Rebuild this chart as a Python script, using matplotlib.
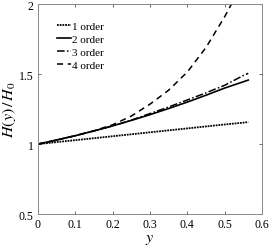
import matplotlib
matplotlib.use("Agg")
import matplotlib.pyplot as plt

plt.rcParams['font.family'] = ['Liberation Serif', 'DejaVu Serif']
plt.rcParams['mathtext.fontset'] = 'stix'

x = [0, 0.05, 0.1, 0.15, 0.2, 0.25, 0.3, 0.35, 0.4, 0.45, 0.5, 0.55, 0.563]
order1 = [1.0, 1.014, 1.028, 1.042, 1.056, 1.07, 1.084, 1.098, 1.112, 1.126, 1.14, 1.153, 1.157]
order2 = [1.0, 1.029, 1.06, 1.094, 1.13, 1.169, 1.21, 1.254, 1.30, 1.349, 1.40, 1.445, 1.457]
order3 = [1.0, 1.029, 1.06, 1.094, 1.13, 1.171, 1.218, 1.265, 1.315, 1.366, 1.42, 1.49, 1.505]
x4 = [0, 0.05, 0.1, 0.15, 0.2, 0.25, 0.3, 0.35, 0.4, 0.45, 0.5, 0.52]
order4 = [1.0, 1.029, 1.06, 1.095, 1.138, 1.2, 1.285, 1.385, 1.515, 1.69, 1.91, 2.01]

labels = ['1 order', '2 order', '3 order', '4 order']
xticks = [0, 0.1, 0.2, 0.3, 0.4, 0.5, 0.6]
yticks = [0.5, 1, 1.5, 2]

fig = plt.figure(figsize=(2.73, 2.51), dpi=100)
ax = fig.add_axes([0.139, 0.143, 0.821, 0.837])

ax.plot(x, order1, color='black', linestyle=(0, (1, 0.5)), linewidth=1.3, label=labels[0])
ax.plot(x, order2, color='black', linestyle='-', linewidth=1.2, label=labels[1])
ax.plot(x, order3, color='black', linestyle=(0, (5, 1.5, 1, 1.5)), linewidth=1.1, label=labels[2])
ax.plot(x4, order4, color='black', linestyle=(0, (4, 3)), linewidth=1.1, label=labels[3])

ax.set_xlim(0, 0.6)
ax.set_ylim(0.5, 2)
ax.set_xticks(xticks)
ax.set_xticklabels(['0', '0.1', '0.2', '0.3', '0.4', '0.5', '0.6'])
ax.set_yticks(yticks)
ax.set_yticklabels(['0.5', '1', '1.5', '2'])
ax.tick_params(direction='in', length=2.5, width=0.6, labelsize=8.5, top=True, right=True,
               color='#555555', pad=3)
for s in ax.spines.values():
    s.set_color('#888888')
    s.set_linewidth(0.7)

ax.set_xlabel('$y$', fontsize=11.5, labelpad=0)
ax.set_ylabel('$H(y)\\,/\\,H_0$', fontsize=11.5, labelpad=1)

leg = ax.legend(loc='upper left', frameon=False, fontsize=8, handlelength=1.25,
                handletextpad=0.15, labelspacing=0.28, borderaxespad=0.3,
                bbox_to_anchor=(0.05, 0.955))

fig.savefig('out.png', dpi=100)
